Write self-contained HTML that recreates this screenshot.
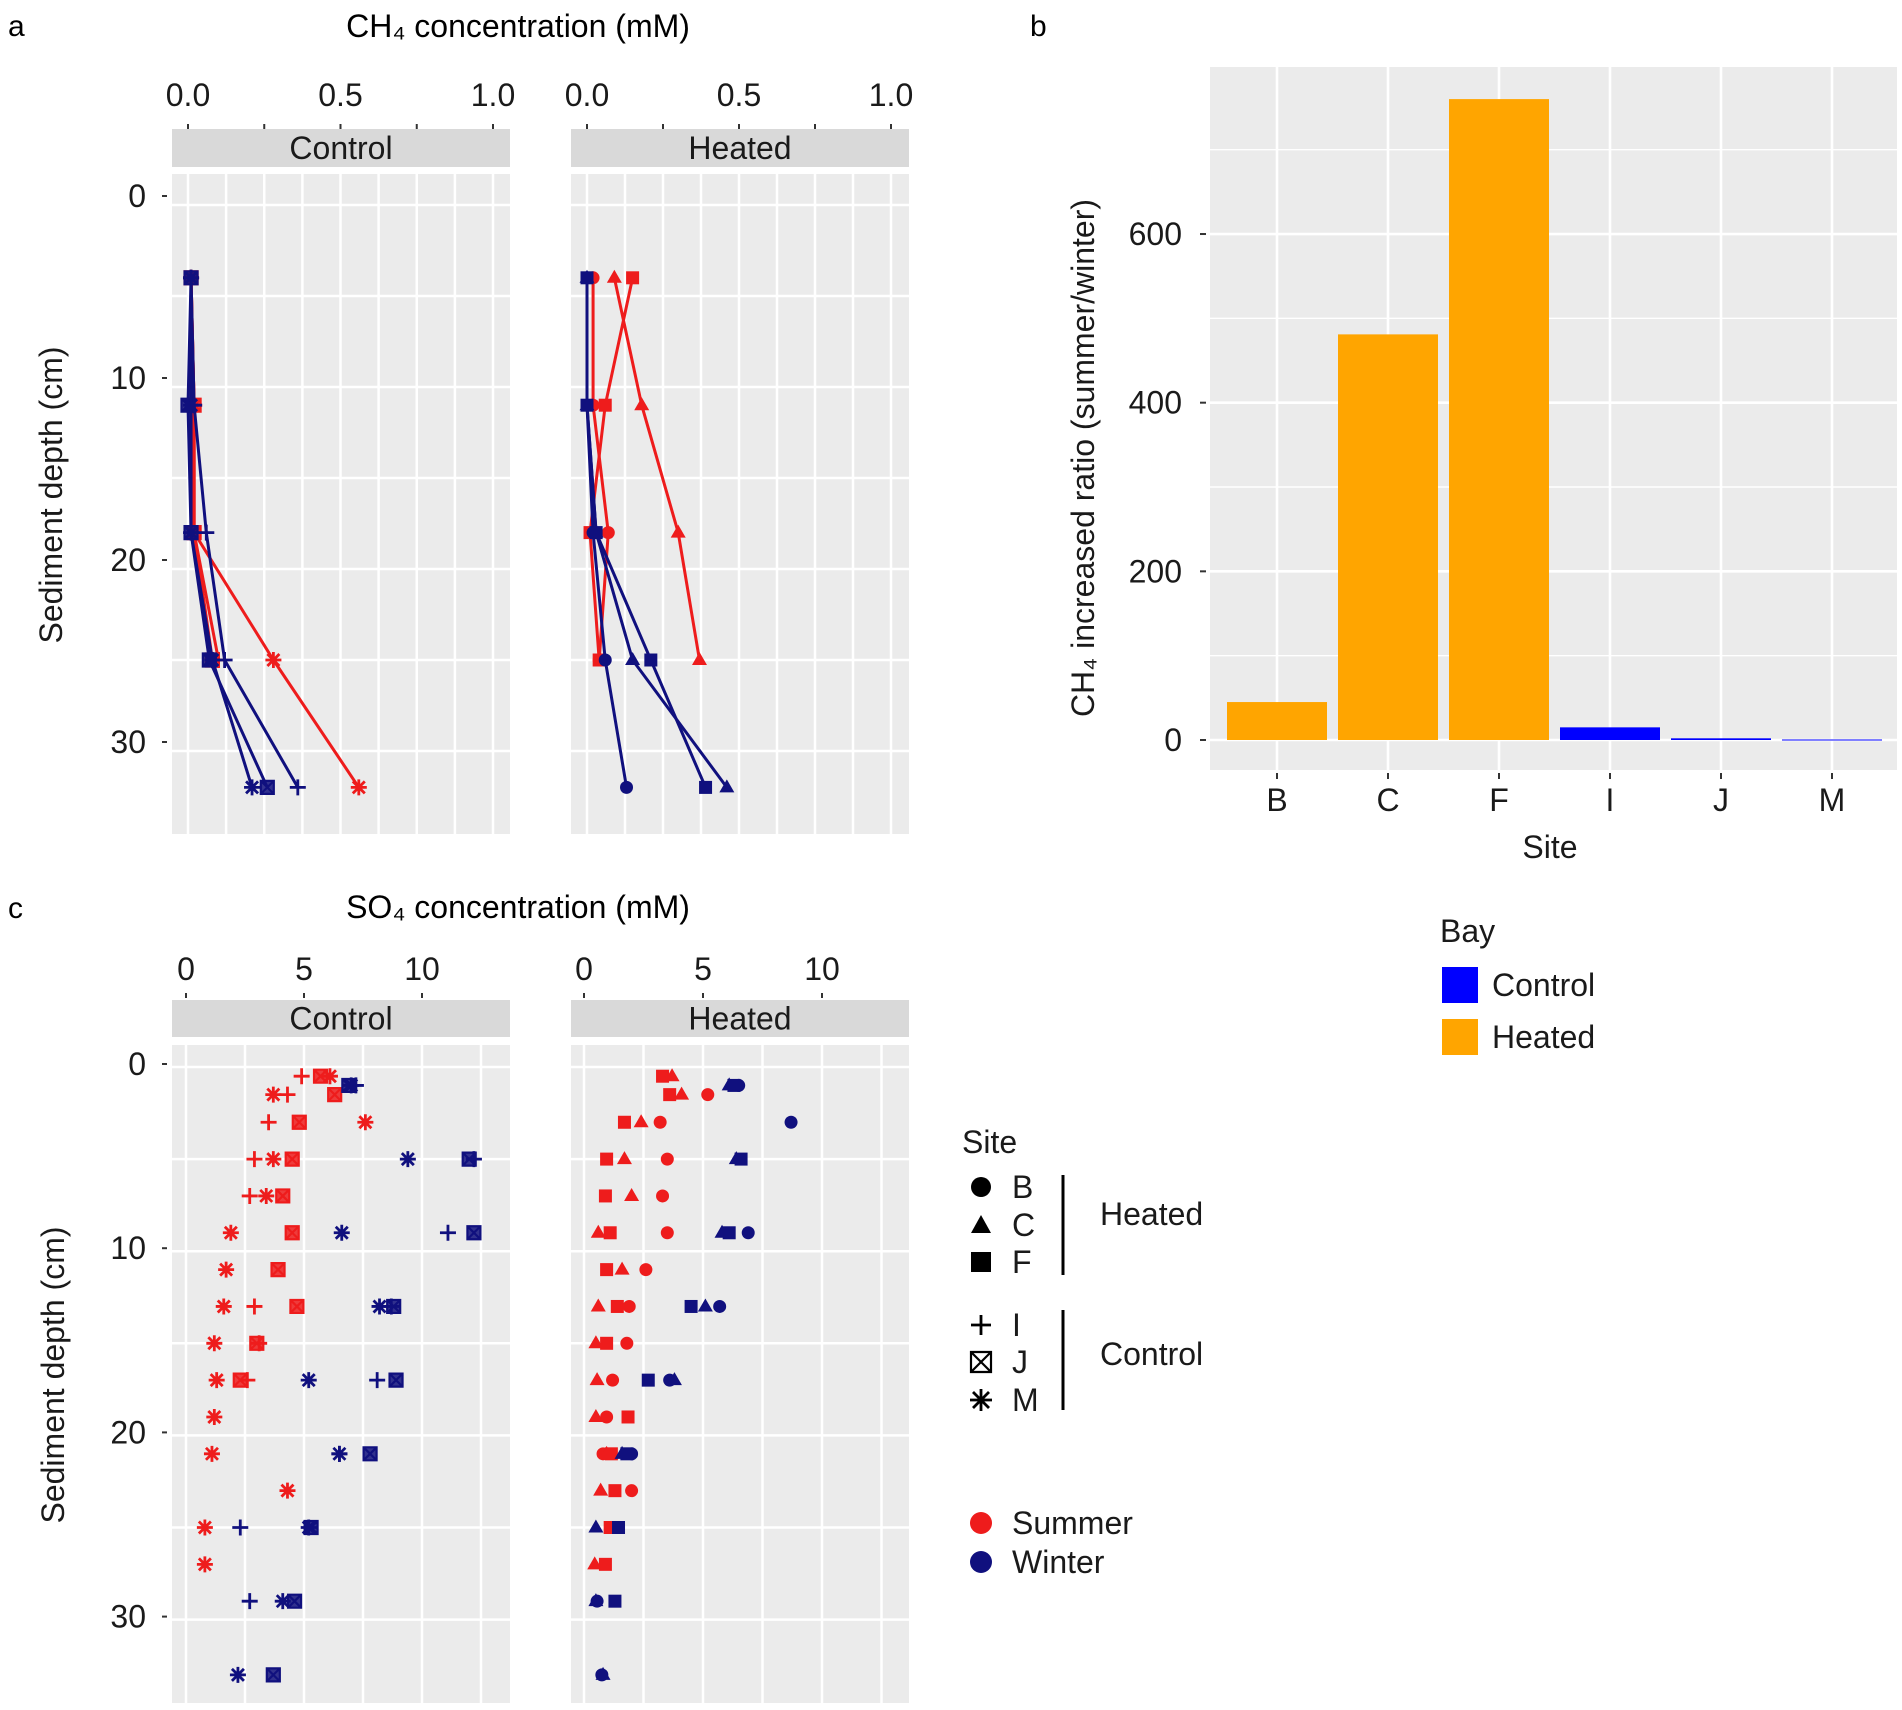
<!DOCTYPE html>
<html><head><meta charset="utf-8"><style>
html,body{margin:0;padding:0;background:#fff;}
svg{display:block;font-family:"Liberation Sans",Arial,sans-serif;}
</style></head><body>
<svg id="fig" width="1902" height="1710" viewBox="0 0 1902 1710" xmlns="http://www.w3.org/2000/svg">
<text x="8" y="36" font-size="30">a</text>
<text x="518" y="37" font-size="32" text-anchor="middle">CH₄ concentration (mM)</text>
<text x="8" y="918" font-size="30">c</text>
<text x="518" y="918" font-size="32" text-anchor="middle">SO₄ concentration (mM)</text>
<text x="1030" y="36" font-size="30">b</text>
<g id="gA"></g>
<g id="gB"></g>
<g id="gC"></g>
<g id="legends"></g>
</svg>
<script>
// ---- Panel a data (CH4, mM) ----
const aDepths = [4, 11, 18, 25, 32];
const aCtrlWinterI = [0.01, 0.02, 0.06, 0.12, 0.36];
const aCtrlWinterJ = [0.01, 0.0, 0.01, 0.07, 0.26];
const aCtrlWinterM = [0.01, 0.01, 0.01, 0.08, 0.21];
const aCtrlSummerI = [0.01, 0.02, 0.02, 0.10];
const aCtrlSummerJ = [0.01, 0.02, 0.02, 0.08];
const aCtrlSummerM = [0.01, 0.02, 0.02, 0.28, 0.56];
const aHeatSummerB = [0.02, 0.02, 0.07, 0.04];
const aHeatSummerC = [0.09, 0.18, 0.30, 0.37];
const aHeatSummerF = [0.15, 0.06, 0.01, 0.04];
const aHeatWinterB = [0.0, 0.0, 0.02, 0.06, 0.13];
const aHeatWinterC = [0.0, 0.0, 0.03, 0.15, 0.46];
const aHeatWinterF = [0.0, 0.0, 0.03, 0.21, 0.39];
const aTickVals = [0, 0.5, 1.0];
const aTickLabels = ["0.0", "0.5", "1.0"];
const depthTickVals = [0, 10, 20, 30];

// ---- Panel b data ----
const bSites = ["B", "C", "F", "I", "J", "M"];
const bRatios = [45, 481, 760, 15, 2, 0.6];
const bBays = ["Heated", "Heated", "Heated", "Control", "Control", "Control"];
const bTickVals = [0, 200, 400, 600];

// ---- Panel c data (SO4, mM) ----
const cCtrlSummerIDepth = [0.5, 1.5, 3, 5, 7, 13, 15, 17];
const cCtrlSummerIVal = [4.9, 4.3, 3.5, 2.9, 2.7, 2.9, 3.1, 2.6];
const cCtrlSummerJDepth = [0.5, 1.5, 3, 5, 7, 9, 11, 13, 15, 17];
const cCtrlSummerJVal = [5.7, 6.3, 4.8, 4.5, 4.1, 4.5, 3.9, 4.7, 3.0, 2.3];
const cCtrlSummerMDepth = [0.5, 1.5, 3, 5, 7, 9, 11, 13, 15, 17, 19, 21, 23, 25, 27];
const cCtrlSummerMVal = [6.1, 3.7, 7.6, 3.7, 3.4, 1.9, 1.7, 1.6, 1.2, 1.3, 1.2, 1.1, 4.3, 0.8, 0.8];
const cCtrlWinterIDepth = [1, 5, 9, 13, 17, 21, 25, 29];
const cCtrlWinterIVal = [7.2, 12.2, 11.1, 8.7, 8.1, 6.5, 2.3, 2.7];
const cCtrlWinterJDepth = [1, 5, 9, 13, 17, 21, 25, 29, 33];
const cCtrlWinterJVal = [6.9, 12.0, 12.2, 8.8, 8.9, 7.8, 5.3, 4.6, 3.7];
const cCtrlWinterMDepth = [1, 5, 9, 13, 17, 21, 25, 29, 33];
const cCtrlWinterMVal = [7.0, 9.4, 6.6, 8.2, 5.2, 6.5, 5.2, 4.1, 2.2];
const cHeatSummerBDepth = [1.5, 3, 5, 7, 9, 11, 13, 15, 17, 19, 21, 23];
const cHeatSummerBVal = [5.2, 3.2, 3.5, 3.3, 3.5, 2.6, 1.9, 1.8, 1.2, 0.95, 0.8, 2.0];
const cHeatSummerCDepth = [0.5, 1.5, 3, 5, 7, 9, 11, 13, 15, 17, 19, 21, 23, 27];
const cHeatSummerCVal = [3.7, 4.1, 2.4, 1.7, 2.0, 0.6, 1.6, 0.6, 0.5, 0.55, 0.5, 0.95, 0.7, 0.45];
const cHeatSummerFDepth = [0.5, 1.5, 3, 5, 7, 9, 11, 13, 15, 19, 21, 23, 25, 27];
const cHeatSummerFVal = [3.3, 3.6, 1.7, 0.95, 0.9, 1.1, 0.95, 1.4, 0.95, 1.85, 1.15, 1.3, 1.1, 0.9];
const cHeatWinterBDepth = [1, 3, 9, 13, 17, 21, 29, 33];
const cHeatWinterBVal = [6.5, 8.7, 6.9, 5.7, 3.6, 2.0, 0.55, 0.75];
const cHeatWinterCDepth = [1, 5, 9, 13, 17, 21, 25, 29, 33];
const cHeatWinterCVal = [6.1, 6.4, 5.8, 5.1, 3.8, 1.6, 0.5, 0.5, 0.8];
const cHeatWinterFDepth = [1, 5, 9, 13, 17, 21, 25, 29];
const cHeatWinterFVal = [6.3, 6.6, 6.1, 4.5, 2.7, 1.8, 1.45, 1.3];
const cTickVals = [0, 5, 10];

const NS = "http://www.w3.org/2000/svg";
const RED = "#ee1c1c", NAVY = "#10107e", BG = "#ebebeb";
const FS = 32;
function mk(parent, tag, attrs, txt) {
  const e = document.createElementNS(NS, tag);
  for (const k in attrs) e.setAttribute(k, attrs[k]);
  if (txt !== undefined) e.textContent = txt;
  parent.appendChild(e);
  return e;
}
function marker(g, shape, x, y, color, name) {
  let e;
  if (shape === "circle") {
    e = mk(g, "circle", {cx: x, cy: y, r: 6.5, fill: color});
  } else if (shape === "triangle") {
    e = mk(g, "polygon", {points: `${x},${y-8} ${x-7.5},${y+5} ${x+7.5},${y+5}`, fill: color});
  } else if (shape === "square") {
    e = mk(g, "rect", {x: x-6.5, y: y-6.5, width: 13, height: 13, fill: color});
  } else if (shape === "plus") {
    e = mk(g, "path", {d: `M${x-8},${y}H${x+8}M${x},${y-8}V${y+8}`, stroke: color, "stroke-width": 2.8, fill: "none"});
  } else if (shape === "boxx") {
    e = mk(g, "path", {d: `M${x-6.5},${y-6.5}h13v13h-13zM${x-6.5},${y-6.5}l13,13M${x+6.5},${y-6.5}l-13,13`, stroke: color, "stroke-width": 2.2, fill: color, "fill-opacity": 0.85});
  } else {
    e = mk(g, "path", {d: `M${x-8},${y}H${x+8}M${x},${y-8}V${y+8}M${x-6},${y-6}L${x+6},${y+6}M${x+6},${y-6}L${x-6},${y+6}`, stroke: color, "stroke-width": 2.8, fill: "none"});
  }
  
  
  return e;
}

function facet(g, cfg) {
  const {x0, x1, y0, y1, sx, sy, gridX, gridY, stripY0, stripY1, title, name} = cfg;
  const bg = mk(g, "rect", {x: x0, y: y0, width: x1-x0, height: y1-y0, fill: BG});
  
  
  gridX.forEach(v => {
    const l = mk(g, "line", {x1: sx(v), x2: sx(v), y1: y0, y2: y1, stroke: "#fff", "stroke-width": 2.5});
    
    
  });
  gridY.forEach(v => {
    const l = mk(g, "line", {x1: x0, x2: x1, y1: sy(v), y2: sy(v), stroke: "#fff", "stroke-width": 2.5});
    
    
  });
  const st = mk(g, "rect", {x: x0, y: stripY0, width: x1-x0, height: stripY1-stripY0, fill: "#d9d9d9"});
  
  
  const tt = mk(g, "text", {x: (x0+x1)/2, y: (stripY0+stripY1)/2 + 11, "font-size": FS, "text-anchor": "middle", fill: "#1a1a1a"}, title);
  
  
}

function topAxis(g, sx, vals, labels, labelY, tickY, minorVals) {
  (minorVals || vals).forEach(v => {
    const t = mk(g, "line", {x1: sx(v), x2: sx(v), y1: tickY, y2: tickY+5, stroke: "#333", "stroke-width": 2});
    
    
  });
  vals.forEach((v, i) => {
    const t = mk(g, "text", {x: sx(v), y: labelY, "font-size": FS, "text-anchor": "middle", fill: "#1a1a1a"}, labels[i]);
    
    
  });
}
function leftAxis(g, sy, vals, xRight, tickX, off) {
  vals.forEach(v => {
    const yy = sy(v) + (off || 0);
    const t = mk(g, "text", {x: xRight, y: yy + 11, "font-size": FS, "text-anchor": "end", fill: "#1a1a1a"}, String(v));
    
    
    const l = mk(g, "line", {x1: tickX, x2: tickX+5, y1: yy, y2: yy, stroke: "#333", "stroke-width": 2});
    
    
  });
}
function yTitle(g, x, y, txt, name) {
  const t = mk(g, "text", {x: x, y: y, "font-size": FS, "text-anchor": "middle", transform: `rotate(-90 ${x} ${y})`, fill: "#1a1a1a"}, txt);
  
  
}

// ===== Panel a =====
(function(){
  const g = document.getElementById("gA");
  const syA = d => 205 + 18.2 * d;
  const sxC = v => 188 + 305 * v;
  const sxH = v => 587 + 304 * v;
  const gx = [0, 0.125, 0.25, 0.375, 0.5, 0.625, 0.75, 0.875, 1.0];
  const gy = [0, 5, 10, 15, 20, 25, 30];
  facet(g, {x0: 172, x1: 510, y0: 174, y1: 834, sx: sxC, sy: syA, gridX: gx, gridY: gy, stripY0: 129, stripY1: 167, title: "Control", name: "panel-a-control"});
  facet(g, {x0: 571, x1: 909, y0: 174, y1: 834, sx: sxH, sy: syA, gridX: gx, gridY: gy, stripY0: 129, stripY1: 167, title: "Heated", name: "panel-a-heated"});
  topAxis(g, sxC, aTickVals, aTickLabels, 106, 124, [0, 0.25, 0.5, 0.75, 1.0]);
  topAxis(g, sxH, aTickVals, aTickLabels, 106, 124, [0, 0.25, 0.5, 0.75, 1.0]);
  leftAxis(g, syA, depthTickVals, 146, 162, -9);
  yTitle(g, 62, 495, "Sediment depth (cm)", "panel-a-y-title");
  function series(vals, sx, color, shape, name) {
    const pts = vals.map((v, i) => `${sx(v)},${syA(aDepths[i])}`).join(" ");
    const pl = mk(g, "polyline", {points: pts, fill: "none", stroke: color, "stroke-width": 3});
    
    
    vals.forEach((v, i) => marker(g, shape, sx(v), syA(aDepths[i]), color, name + '-point'));
  }
  series(aCtrlSummerI, sxC, RED, "plus", "ctrl-summer-i");
  series(aCtrlSummerJ, sxC, RED, "boxx", "ctrl-summer-j");
  series(aCtrlSummerM, sxC, RED, "star", "ctrl-summer-m");
  series(aCtrlWinterI, sxC, NAVY, "plus", "ctrl-winter-i");
  series(aCtrlWinterJ, sxC, NAVY, "boxx", "ctrl-winter-j");
  series(aCtrlWinterM, sxC, NAVY, "star", "ctrl-winter-m");
  series(aHeatSummerB, sxH, RED, "circle", "heat-summer-b");
  series(aHeatSummerC, sxH, RED, "triangle", "heat-summer-c");
  series(aHeatSummerF, sxH, RED, "square", "heat-summer-f");
  series(aHeatWinterB, sxH, NAVY, "circle", "heat-winter-b");
  series(aHeatWinterC, sxH, NAVY, "triangle", "heat-winter-c");
  series(aHeatWinterF, sxH, NAVY, "square", "heat-winter-f");
})();

// ===== Panel c =====
(function(){
  const g = document.getElementById("gC");
  const syC = d => 1067 + 18.42 * d;
  const sxC = v => 186 + 23.6 * v;
  const sxH = v => 584 + 23.8 * v;
  const gx = [0, 2.5, 5, 7.5, 10, 12.5];
  const gy = [0, 5, 10, 15, 20, 25, 30];
  facet(g, {x0: 172, x1: 510, y0: 1045, y1: 1703, sx: sxC, sy: syC, gridX: gx, gridY: gy, stripY0: 1000, stripY1: 1037, title: "Control", name: "panel-c-control"});
  facet(g, {x0: 571, x1: 909, y0: 1045, y1: 1703, sx: sxH, sy: syC, gridX: gx, gridY: gy, stripY0: 1000, stripY1: 1037, title: "Heated", name: "panel-c-heated"});
  topAxis(g, sxC, cTickVals, cTickVals.map(String), 980, 993);
  topAxis(g, sxH, cTickVals, cTickVals.map(String), 980, 993);
  leftAxis(g, syC, depthTickVals, 146, 162, -3);
  yTitle(g, 64, 1375, "Sediment depth (cm)", "panel-c-y-title");
  function pts(depths, vals, sx, color, shape, name) {
    vals.forEach((v, i) => marker(g, shape, sx(v), syC(depths[i]), color, name));
  }
  pts(cCtrlSummerIDepth, cCtrlSummerIVal, sxC, RED, "plus", "ctrl-summer-i-point");
  pts(cCtrlSummerJDepth, cCtrlSummerJVal, sxC, RED, "boxx", "ctrl-summer-j-point");
  pts(cCtrlSummerMDepth, cCtrlSummerMVal, sxC, RED, "star", "ctrl-summer-m-point");
  pts(cCtrlWinterIDepth, cCtrlWinterIVal, sxC, NAVY, "plus", "ctrl-winter-i-point");
  pts(cCtrlWinterJDepth, cCtrlWinterJVal, sxC, NAVY, "boxx", "ctrl-winter-j-point");
  pts(cCtrlWinterMDepth, cCtrlWinterMVal, sxC, NAVY, "star", "ctrl-winter-m-point");
  pts(cHeatSummerBDepth, cHeatSummerBVal, sxH, RED, "circle", "heat-summer-b-point");
  pts(cHeatSummerCDepth, cHeatSummerCVal, sxH, RED, "triangle", "heat-summer-c-point");
  pts(cHeatSummerFDepth, cHeatSummerFVal, sxH, RED, "square", "heat-summer-f-point");
  pts(cHeatWinterBDepth, cHeatWinterBVal, sxH, NAVY, "circle", "heat-winter-b-point");
  pts(cHeatWinterCDepth, cHeatWinterCVal, sxH, NAVY, "triangle", "heat-winter-c-point");
  pts(cHeatWinterFDepth, cHeatWinterFVal, sxH, NAVY, "square", "heat-winter-f-point");
})();

// ===== Panel b =====
(function(){
  const g = document.getElementById("gB");
  const x0 = 1210, x1 = 1897, y0 = 67, y1 = 770;
  const sy = v => 740 - 0.8433 * v;
  const step = 111, first = 1277;
  const sx = i => first + step * i;
  const bg = mk(g, "rect", {x: x0, y: y0, width: x1-x0, height: y1-y0, fill: BG});
  
  
  [0, 100, 200, 300, 400, 500, 600, 700].forEach(v => {
    const l = mk(g, "line", {x1: x0, x2: x1, y1: sy(v), y2: sy(v), stroke: "#fff", "stroke-width": v % 200 === 0 ? 2.6 : 1.4});
    
    
  });
  bSites.forEach((s, i) => {
    const l = mk(g, "line", {x1: sx(i), x2: sx(i), y1: y0, y2: y1, stroke: "#fff", "stroke-width": 2.6});
    
    
  });
  bRatios.forEach((v, i) => {
    const top = sy(v);
    const r = mk(g, "rect", {x: sx(i) - 50, y: top, width: 100, height: Math.max(sy(0) - top, 1), fill: bBays[i] === "Heated" ? "#ffa500" : "#0000ff"});
    
    
  });
  bTickVals.forEach(v => {
    const t = mk(g, "text", {x: 1182, y: sy(v) + 11, "font-size": FS, "text-anchor": "end", fill: "#1a1a1a"}, String(v));
    
    
    const l = mk(g, "line", {x1: 1200, x2: 1206, y1: sy(v), y2: sy(v), stroke: "#333", "stroke-width": 2});
    
    
  });
  bSites.forEach((s, i) => {
    const l = mk(g, "line", {x1: sx(i), x2: sx(i), y1: 773, y2: 779, stroke: "#333", "stroke-width": 2});
    
    
    const t = mk(g, "text", {x: sx(i), y: 811, "font-size": FS, "text-anchor": "middle", fill: "#1a1a1a"}, s);
    
    
  });
  const xt = mk(g, "text", {x: 1550, y: 858, "font-size": FS, "text-anchor": "middle", fill: "#1a1a1a"}, "Site");
  
  
  yTitle(g, 1094, 458, "CH₄ increased ratio (summer/winter)", "panel-b-y-title");
})();

// ===== Legends =====
(function(){
  const g = document.getElementById("legends");
  const t1 = mk(g, "text", {x: 1440, y: 942, "font-size": FS, fill: "#1a1a1a"}, "Bay");
  
  
  [["Control", "#0000ff", 967], ["Heated", "#ffa500", 1019]].forEach(([lab, col, y]) => {
    const r = mk(g, "rect", {x: 1442, y: y, width: 36, height: 36, fill: col});
    
    
    const t = mk(g, "text", {x: 1492, y: y + 29, "font-size": FS, fill: "#1a1a1a"}, lab);
    
    
  });
  const st = mk(g, "text", {x: 962, y: 1153, "font-size": FS, fill: "#1a1a1a"}, "Site");
  
  
  [["circle", "B", 1187], ["triangle", "C", 1225], ["square", "F", 1262], ["plus", "I", 1325], ["boxx", "J", 1362], ["star", "M", 1400]].forEach(([sh, lab, y]) => {
    const m = marker(g, sh, 981, y, "#000", 'site-legend-key-' + lab.toLowerCase());
    if (sh === "circle") m.setAttribute("r", 10);
    if (sh === "square") { m.setAttribute("x", 971); m.setAttribute("y", y-10); m.setAttribute("width", 20); m.setAttribute("height", 20); }
    if (sh === "triangle") m.setAttribute("points", `981,${y-10} 971,${y+8} 991,${y+8}`);
    if (sh === "boxx") { m.setAttribute("fill", "none"); m.setAttribute("d", `M971,${y-10}h20v20h-20zM971,${y-10}l20,20M991,${y-10}l-20,20`); }
    if (sh === "plus") m.setAttribute("d", `M971,${y}H991M981,${y-10}V${y+10}`);
    if (sh === "star") m.setAttribute("d", `M970,${y}H992M981,${y-11}V${y+11}M973,${y-8}L989,${y+8}M989,${y-8}L973,${y+8}`);
    const t = mk(g, "text", {x: 1012, y: y + 11, "font-size": FS, fill: "#1a1a1a"}, lab);
    
    
  });
  [[1175, 1275, "Heated", 1225], [1310, 1410, "Control", 1365]].forEach(([ya, yb, lab, ty]) => {
    const l = mk(g, "line", {x1: 1063, x2: 1063, y1: ya, y2: yb, stroke: "#000", "stroke-width": 3});
    
    
    const t = mk(g, "text", {x: 1100, y: ty, "font-size": FS, fill: "#1a1a1a"}, lab);
    
    
  });
  [["Summer", RED, 1523], ["Winter", NAVY, 1562]].forEach(([lab, col, y]) => {
    const c = mk(g, "circle", {cx: 981, cy: y, r: 11, fill: col});
    
    
    const t = mk(g, "text", {x: 1012, y: y + 11, "font-size": FS, fill: "#1a1a1a"}, lab);
    
    
  });
})();
</script>
</body></html>
